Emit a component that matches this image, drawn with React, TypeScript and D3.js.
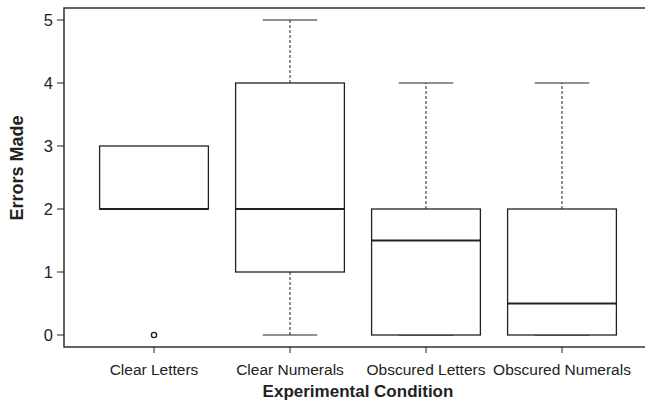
import React from "react";
import * as d3 from "d3";

const categories = ["Clear Letters", "Clear Numerals", "Obscured Letters", "Obscured Numerals"];
const whiskerLow = [null, 0, 0, 0];
const q1 = [2, 1, 0, 0];
const median = [2, 2, 1.5, 0.5];
const q3 = [3, 4, 2, 2];
const whiskerHigh = [null, 5, 4, 4];
const outliers = [[0], [], [], []];
const yTicks = [0, 1, 2, 3, 4, 5];

const W = 645, H = 403;
const left = 64, right = 660, top = 8, bottom = 347;

export default function App() {
  const x = d3.scaleBand<string>().domain(categories).range([86, 630]).paddingInner(0.2).paddingOuter(0.1);
  const y = d3.scaleLinear().domain([0, 5]).range([335, 20]);
  const bw = x.bandwidth();
  const ink = "#222";
  return (
    <svg width={W} height={H} style={{ position: "absolute", left: 0, top: 0 }} fontFamily="'Liberation Sans', Arial, sans-serif">
      <rect x={0} y={0} width={W} height={H} fill="#fff" />
      <rect x={left} y={top} width={right - left} height={bottom - top} fill="none" stroke={ink} strokeWidth={1.4} />
      {yTicks.map((t) => (
        <g key={t}>
          <line x1={57} x2={left} y1={y(t)} y2={y(t)} stroke={ink} strokeWidth={1} />
          <text x={53} y={y(t)} dy="0.36em" textAnchor="end" fontSize={16.5} fill={ink}>{t}</text>
        </g>
      ))}
      {categories.map((c, i) => {
        const cx = (x(c) as number) + bw / 2;
        const x0 = x(c) as number;
        return (
          <g key={c}>
            <line x1={cx} x2={cx} y1={bottom} y2={bottom + 6} stroke={ink} strokeWidth={1} />
            <text x={cx} y={375} textAnchor="middle" fontSize={15.5} fill={ink}>{c}</text>
            {whiskerHigh[i] !== null && (
              <>
                <line x1={cx} x2={cx} y1={y(q3[i])} y2={y(whiskerHigh[i] as number)} stroke={ink} strokeWidth={1} strokeDasharray="3,2" />
                <line x1={cx - bw / 4} x2={cx + bw / 4} y1={y(whiskerHigh[i] as number)} y2={y(whiskerHigh[i] as number)} stroke={ink} strokeWidth={1.2} />
              </>
            )}
            {whiskerLow[i] !== null && (
              <>
                <line x1={cx} x2={cx} y1={y(q1[i])} y2={y(whiskerLow[i] as number)} stroke={ink} strokeWidth={1} strokeDasharray="3,2" />
                <line x1={cx - bw / 4} x2={cx + bw / 4} y1={y(whiskerLow[i] as number)} y2={y(whiskerLow[i] as number)} stroke={ink} strokeWidth={1.2} />
              </>
            )}
            <rect x={x0} y={y(q3[i])} width={bw} height={y(q1[i]) - y(q3[i])} fill="#fff" stroke={ink} strokeWidth={1.3} />
            <line x1={x0} x2={x0 + bw} y1={y(median[i])} y2={y(median[i])} stroke={ink} strokeWidth={2.2} />
            {outliers[i].map((o, k) => (
              <circle key={k} cx={cx} cy={y(o)} r={2.6} fill="#fff" stroke={ink} strokeWidth={1.4} />
            ))}
          </g>
        );
      })}
      <text x={358} y={397} textAnchor="middle" fontSize={17} fontWeight="bold" fill={ink}>Experimental Condition</text>
      <text transform={`translate(23,168) rotate(-90)`} textAnchor="middle" fontSize={18} fontWeight="bold" fill={ink}>Errors Made</text>
    </svg>
  );
}
